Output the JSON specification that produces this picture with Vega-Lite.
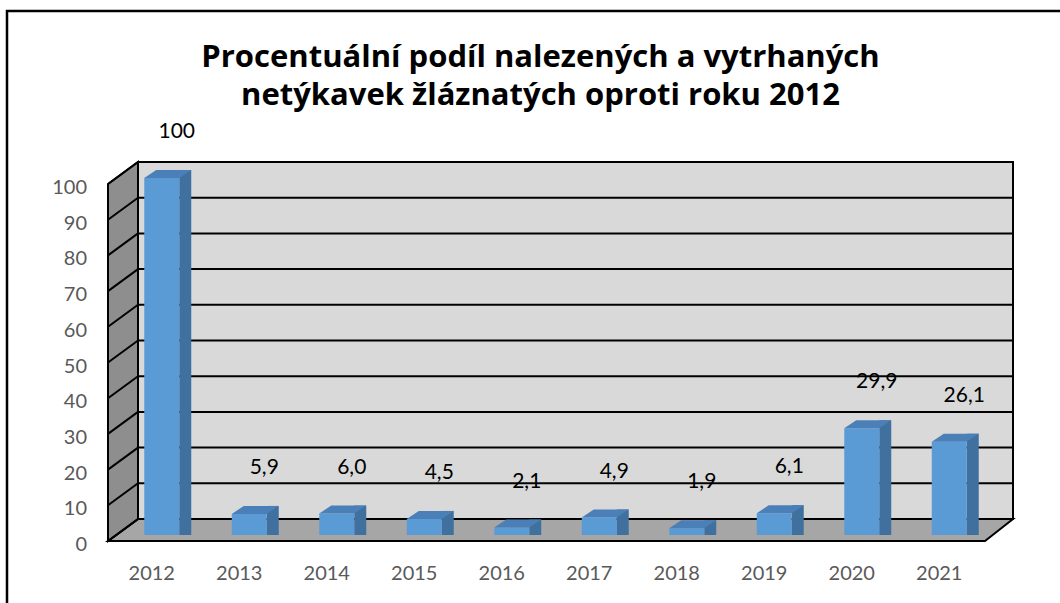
{
  "$schema": "https://vega.github.io/schema/vega-lite/v6.json",
  "width": 875,
  "height": 357,
  "autosize": "none",
  "padding": {"left": 138, "top": 162, "right": 47, "bottom": 84},
  "background": "white",
  "config": {
    "view": {"fill": "#d9d9d9", "stroke": "black", "strokeWidth": 2},
    "font": "Lato"
  },
  "title": {
    "text": ["Procentuální podíl nalezených a vytrhaných", "netýkavek žláznatých oproti roku 2012"],
    "font": "Open Sans",
    "fontSize": 31,
    "fontWeight": "bold",
    "color": "black",
    "anchor": "middle",
    "frame": "group",
    "dx": -35,
    "offset": -102,
    "lineHeight": 38
  },
  "datasets": {
    "bars": [
      {"year": "2012", "value": 100, "label": "100"},
      {"year": "2013", "value": 5.9, "label": "5,9"},
      {"year": "2014", "value": 6.0, "label": "6,0"},
      {"year": "2015", "value": 4.5, "label": "4,5"},
      {"year": "2016", "value": 2.1, "label": "2,1"},
      {"year": "2017", "value": 4.9, "label": "4,9"},
      {"year": "2018", "value": 1.9, "label": "1,9"},
      {"year": "2019", "value": 6.1, "label": "6,1"},
      {"year": "2020", "value": 29.9, "label": "29,9"},
      {"year": "2021", "value": 26.1, "label": "26,1"}
    ],
    "ticks": [
      {"t": 0}, {"t": 10}, {"t": 20}, {"t": 30}, {"t": 40}, {"t": 50},
      {"t": 60}, {"t": 70}, {"t": 80}, {"t": 90}, {"t": 100}
    ],
    "one": [{"k": 1}]
  },
  "resolve": {"scale": {"x": "independent"}},
  "layer": [
    {
      "data": {"name": "one"},
      "mark": {"type": "rect", "filled": false, "stroke": "black", "strokeWidth": 2.5, "xOffset": -131, "x2Offset": 60, "yOffset": -151, "y2Offset": 100},
      "encoding": {
        "x": {"datum": 0, "type": "quantitative", "scale": {"domain": [0, 1]}, "axis": null},
        "x2": {"datum": 1},
        "y": {"datum": 100, "type": "quantitative", "scale": {"domain": [0, 100], "nice": false}, "axis": null},
        "y2": {"datum": 0}
      }
    },
    {
      "data": {"name": "ticks"},
      "mark": {"type": "rule", "color": "black", "strokeWidth": 2},
      "encoding": {
        "x": {"datum": 0, "type": "quantitative", "scale": {"domain": [0, 1]}, "axis": null},
        "x2": {"datum": 1},
        "y": {"field": "t", "type": "quantitative", "axis": null}
      }
    },
    {
      "data": {"name": "ticks"},
      "mark": {"type": "text", "font": "Lato", "fontSize": 20, "color": "#595959", "align": "right", "baseline": "middle", "xOffset": -51, "yOffset": 26},
      "encoding": {
        "x": {"datum": 0, "type": "quantitative", "scale": {"domain": [0, 1]}, "axis": null},
        "y": {"field": "t", "type": "quantitative", "axis": null},
        "text": {"field": "t", "type": "quantitative"}
      }
    },
    {
      "data": {"name": "one"},
      "mark": {"type": "point", "shape": "M-39.773,-1L39.773,-1L37.227,1L-42.5,1Z", "size": 484, "filled": true, "fill": "#a6a6a6", "stroke": "black", "strokeWidth": 2, "opacity": 1, "yOffset": 11},
      "encoding": {
        "x": {"datum": 0.5, "type": "quantitative", "scale": {"domain": [0, 1]}, "axis": null},
        "y": {"datum": 0, "type": "quantitative", "axis": null}
      }
    },
    {
      "data": {"name": "one"},
      "mark": {"type": "point", "shape": "M-1.3636,-15.227L1.3636,-17.227L1.3636,15.227L-1.3636,17.227Z", "size": 484, "filled": true, "fill": "#8e8e8e", "stroke": "black", "strokeWidth": 2, "opacity": 1, "xOffset": -15, "yOffset": 11},
      "encoding": {
        "x": {"datum": 0, "type": "quantitative", "scale": {"domain": [0, 1]}, "axis": null},
        "y": {"datum": 50, "type": "quantitative", "axis": null}
      }
    },
    {
      "data": {"name": "ticks"},
      "mark": {"type": "rule", "color": "black", "strokeWidth": 2, "xOffset": -30, "yOffset": 22},
      "encoding": {
        "x": {"datum": 0, "type": "quantitative", "scale": {"domain": [0, 1]}, "axis": null},
        "x2": {"datum": 0},
        "y": {"field": "t", "type": "quantitative", "axis": null},
        "y2": {"field": "t"}
      }
    },
    {
      "data": {"name": "bars"},
      "encoding": {
        "x": {
          "field": "year",
          "type": "nominal",
          "scale": {"type": "band", "paddingInner": 0.6, "paddingOuter": 0.3},
          "axis": {
            "title": null,
            "domain": false,
            "ticks": false,
            "grid": false,
            "labelAngle": 0,
            "labelFont": "Lato",
            "labelFontSize": 20,
            "labelColor": "#595959",
            "labelPadding": 44,
            "labelOffset": -30
          }
        }
      },
      "layer": [
        {
          "mark": {"type": "bar", "width": 12, "xOffset": 3.5, "yOffset": 8, "y2Offset": 16, "color": "#40709e"},
          "encoding": {
            "y": {"field": "value", "type": "quantitative", "axis": null},
            "y2": {"datum": 0}
          }
        },
        {
          "mark": {"type": "bar", "width": 35, "xOffset": -20, "yOffset": 16, "y2Offset": 16, "color": "#5b9bd5"},
          "encoding": {
            "y": {"field": "value", "type": "quantitative", "axis": null},
            "y2": {"datum": 0}
          }
        },
        {
          "mark": {"type": "point", "shape": "M-5.875,1L2.875,1L5.875,-1L-2.875,-1Z", "size": 64, "filled": true, "color": "#4a7fb8", "opacity": 1, "strokeWidth": 0, "xOffset": -14, "yOffset": 12},
          "encoding": {
            "y": {"field": "value", "type": "quantitative", "axis": null}
          }
        },
        {
          "mark": {"type": "text", "font": "Lato", "fontSize": 21, "color": "black", "baseline": "middle", "dy": -30, "dx": -5},
          "encoding": {
            "y": {"field": "value", "type": "quantitative", "axis": null},
            "text": {"field": "label"}
          }
        }
      ]
    }
  ]
}
